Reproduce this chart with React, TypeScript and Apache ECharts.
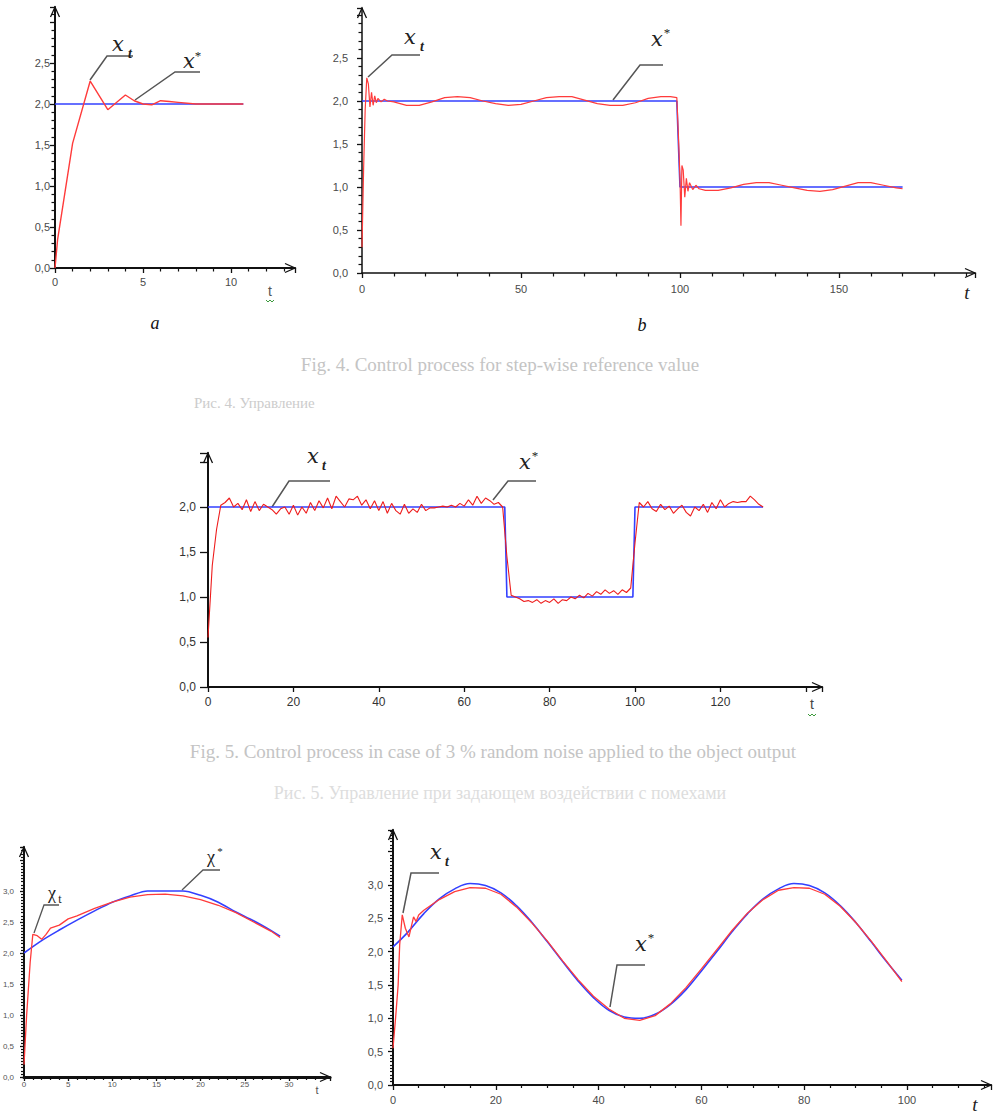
import React, { useEffect, useRef } from "react";
import * as echarts from "echarts";

// ---------- Chart a (step reference, short horizon) ----------
const aRedT = [0, 0.15, 1, 2, 3, 4, 4.5, 5, 5.5, 6, 6.5, 7, 8, 9, 10, 10.7];
const aRedV = [0.0, 0.35, 1.52, 2.28, 1.93, 2.11, 2.04, 2.0, 1.99, 2.04, 2.03, 2.02, 2.0, 2.0, 2.0, 2.0];
const aRefT = [0, 10.7];
const aRefV = [2, 2];
const aXTicks = [0, 5, 10];
const aYTicks = [0, 0.5, 1, 1.5, 2, 2.5];

// ---------- Chart b (step-wise reference 2 -> 1) ----------
const bRedT = [0, 0.5, 1, 1.5, 2, 2.5, 3, 3.5, 4, 4.5, 5, 6, 7, 8, 10, 14, 18, 22, 26, 30, 34, 38, 42, 46, 50, 54, 58, 62, 66, 70, 74, 78, 82, 86, 90, 94, 97, 99, 99.5, 100, 100.3, 100.6, 101, 101.5, 102, 102.5, 103, 104, 105, 106, 108, 112, 116, 120, 124, 128, 132, 136, 140, 144, 148, 152, 156, 160, 164, 168, 170];
const bRedV = [0.3, 1.2, 1.9, 2.27, 2.2, 1.93, 2.1, 1.95, 2.06, 1.98, 2.03, 1.99, 2.02, 2.0, 1.99, 1.95, 1.95, 1.99, 2.04, 2.05, 2.04, 2.0, 1.97, 1.95, 1.96, 2.0, 2.04, 2.05, 2.05, 2.01, 1.97, 1.95, 1.95, 1.98, 2.03, 2.05, 2.05, 2.04, 1.6, 1.1, 0.55, 1.25, 1.2, 0.88, 1.1, 0.95, 1.05, 0.97, 1.02, 0.98, 0.96, 0.96, 0.99, 1.03, 1.05, 1.05, 1.02, 0.99, 0.96, 0.95, 0.97, 1.01, 1.05, 1.05, 1.02, 0.99, 0.98];
const bRefT = [0, 99, 100, 170];
const bRefV = [2, 2, 1, 1];
const bXTicks = [0, 50, 100, 150];
const bYTicks = [0, 0.5, 1, 1.5, 2, 2.5];

// ---------- Middle chart (3 % noise), x_t sampled at t = 0,1,2,... ----------
const mRedV = [
  0.55, 1.35, 1.75, 2.02, 2.05, 2.1, 2.0, 2.04, 1.97, 2.08,
  1.95, 2.06, 1.96, 2.03, 2.0, 1.97, 1.92, 1.98, 2.0, 1.92,
  2.02, 1.91, 2.0, 1.93, 2.05, 1.96, 2.07, 1.99, 2.1, 1.98,
  2.12, 2.06, 2.0, 2.09, 2.08, 2.12, 2.02, 2.08, 1.98, 2.07,
  1.96, 2.06, 1.93, 2.04, 1.96, 1.92, 2.03, 1.93, 1.98, 1.94,
  2.03, 1.96, 1.99, 1.99, 2.0, 2.01, 2.0, 2.02, 2.0, 2.04,
  2.01, 2.08, 2.02, 2.12, 2.04, 2.1, 2.07, 2.03, 2.05, 2.0,
  1.45, 1.02, 1.0, 0.98, 0.95, 0.96, 0.94, 0.97, 0.93, 0.96,
  0.94, 0.98, 0.93, 0.97, 0.96, 1.0, 0.98, 1.02, 0.99, 1.04,
  1.01, 1.06, 1.03, 1.08, 1.04, 1.07, 1.03, 1.08, 1.05, 1.1,
  1.6, 2.05, 2.0, 2.06, 1.98, 1.95, 2.03, 1.97, 2.01, 1.93,
  1.98, 2.02, 1.94, 1.9, 2.0, 1.96, 2.03, 1.94, 2.05, 1.98,
  2.08, 2.0, 2.04, 2.06, 2.05, 2.06, 2.06, 2.12, 2.08, 2.03,
  2.0,
];
const mRefT = [0, 69.5, 70, 99.5, 100, 130];
const mRefV = [2, 2, 1, 1, 2, 2];
const mXTicks = [0, 20, 40, 60, 80, 100, 120];
const mYTicks = [0, 0.5, 1, 1.5, 2];

// ---------- Bottom-left (slowly varying reference) ----------
const lRedT = [0, 0.3, 0.7, 1, 1.5, 2, 2.5, 3, 4, 5, 6, 8, 10, 12, 14, 16, 18, 20, 22, 24, 26, 28, 29];
const lRedV = [0.2, 1.0, 1.85, 2.3, 2.28, 2.22, 2.3, 2.4, 2.45, 2.55, 2.6, 2.72, 2.82, 2.9, 2.94, 2.95, 2.92, 2.86, 2.77, 2.65, 2.5, 2.35, 2.25];
const lRefT = [0, 2, 4, 6, 8, 10, 12, 14, 16, 18, 20, 22, 24, 26, 28, 29];
const lRefV = [2.0, 2.2, 2.37, 2.53, 2.68, 2.82, 2.92, 3.0, 3.0, 3.0, 2.93, 2.82, 2.66, 2.52, 2.36, 2.27];
const lXTicks = [0, 5, 10, 15, 20, 25, 30];
const lYTicks = [0, 0.5, 1, 1.5, 2, 2.5, 3];

// ---------- Bottom-right (sinusoidal reference) ----------
const rRedT = [0, 0.5, 1, 1.3, 1.8, 2.4, 3.1, 4, 4.5, 5, 6, 9, 12, 15, 18, 21, 24, 27, 30, 33, 36, 39, 42, 45, 48, 51, 54, 57, 60, 63, 66, 69, 72, 75, 78, 81, 84, 87, 90, 93, 96, 99];
const rRedV = [0.55, 1.0, 1.5, 2.1, 2.55, 2.35, 2.22, 2.52, 2.45, 2.55, 2.62, 2.78, 2.9, 2.96, 2.95, 2.86, 2.67, 2.43, 2.16, 1.86, 1.58, 1.33, 1.14, 1.0, 0.97, 1.04, 1.22, 1.46, 1.74, 2.03, 2.32, 2.58, 2.78, 2.92, 2.96, 2.95, 2.86, 2.68, 2.44, 2.16, 1.86, 1.55];
const rRefT = [0, 3, 6, 9, 12, 15, 18, 21, 24, 27, 30, 33, 36, 39, 42, 45, 48, 51, 54, 57, 60, 63, 66, 69, 72, 75, 78, 81, 84, 87, 90, 93, 96, 99];
const rRefV = [2.07, 2.3, 2.57, 2.79, 2.94, 3.02, 2.99, 2.88, 2.69, 2.44, 2.15, 1.85, 1.56, 1.31, 1.12, 1.02, 1.0, 1.06, 1.21, 1.43, 1.71, 2.0, 2.3, 2.57, 2.79, 2.94, 3.02, 2.99, 2.88, 2.69, 2.44, 2.15, 1.85, 1.57];
const rXTicks = [0, 20, 40, 60, 80, 100];
const rYTicks = [0, 0.5, 1, 1.5, 2, 2.5, 3];

const zip = (t: number[], v: number[]) => t.map((x, i) => [x, v[i]]);
const fmt1 = (v: number) => v.toFixed(1).replace(".", ",");

const RED = "#ff3b3b";
const BLUE = "#3340ff";
const LEADER = "#555555";
const SANS = "Liberation Sans, Arial, sans-serif";
const SERIF = "Liberation Serif, Times New Roman, serif";
const MATH = "DejaVu Serif, serif";

type Lay = { left: number; top: number; width: number; height: number };
const layouts: Lay[] = [
  { left: 55, top: 7, width: 240, height: 261 },
  { left: 362, top: 8, width: 613, height: 265 },
  { left: 208, top: 453, width: 614, height: 234 },
  { left: 24, top: 847, width: 306, height: 230 },
  { left: 393, top: 830, width: 598, height: 255 },
];

type AxCfg = {
  xmax: number; xint: number; xticks: number[]; xminor: number; xlw: number; xtl: number; xlm: number;
  ymax: number; yint: number; yticks: number[]; yminor: number; ylw: number; ytl: number; ylm: number;
  fs: number; color: string; minorLen: number;
};

const cfgs: AxCfg[] = [
  { xmax: 240 / 17.6, xint: 5, xticks: aXTicks, xminor: 5, xlw: 2, xtl: 5, xlm: 8,
    ymax: 261 / 82, yint: 0.5, yticks: aYTicks, yminor: 5, ylw: 2, ytl: 5, ylm: 5, fs: 11, color: "#4a4a4a", minorLen: 3.5 },
  { xmax: 613 / 3.18, xint: 50, xticks: bXTicks, xminor: 5, xlw: 1.5, xtl: 5, xlm: 10,
    ymax: 265 / 86, yint: 0.5, yticks: bYTicks, yminor: 5, ylw: 1.5, ytl: 5, ylm: 14, fs: 11, color: "#4a4a4a", minorLen: 3.5 },
  { xmax: 614 / 4.27, xint: 20, xticks: mXTicks, xminor: 0, xlw: 2, xtl: 5, xlm: 9,
    ymax: 234 / 90, yint: 0.5, yticks: mYTicks, yminor: 0, ylw: 2, ytl: 8, ylm: 12, fs: 12, color: "#333333", minorLen: 2 },
  { xmax: 306 / 8.83, xint: 5, xticks: lXTicks, xminor: 5, xlw: 3, xtl: 4, xlm: 3,
    ymax: 230 / 62, yint: 0.5, yticks: lYTicks, yminor: 10, ylw: 2, ytl: 4, ylm: 10, fs: 8, color: "#555555", minorLen: 3 },
  { xmax: 598 / 5.14, xint: 20, xticks: rXTicks, xminor: 4, xlw: 2, xtl: 5, xlm: 9,
    ymax: 255 / 66.7, yint: 0.5, yticks: rYTicks, yminor: 10, ylw: 2, ytl: 5, ylm: 10, fs: 11, color: "#4a4a4a", minorLen: 3 },
];

function buildOption() {
  const grid = layouts.map((l) => ({ ...l, containLabel: false, outerBoundsMode: "none" }));
  const xAxis = cfgs.map((c, i) => ({
    gridIndex: i, type: "value", min: 0, max: c.xmax, interval: c.xint,
    axisLine: { show: true, onZero: false, lineStyle: { color: "#111", width: c.xlw } },
    axisTick: { show: true, length: c.xtl, lineStyle: { color: "#111", width: 1.3 } },
    minorTick: { show: c.xminor > 0, splitNumber: c.xminor || 5, length: c.minorLen, lineStyle: { color: "#111", width: 1.2 } },
    axisLabel: { customValues: c.xticks, margin: c.xlm, color: c.color, fontSize: c.fs, fontFamily: SANS, formatter: (v: number) => String(v) },
    splitLine: { show: false },
    minorSplitLine: { show: false },
  }));
  const yAxis = cfgs.map((c, i) => ({
    gridIndex: i, type: "value", min: 0, max: c.ymax, interval: c.yint,
    axisLine: { show: true, onZero: false, lineStyle: { color: "#111", width: c.ylw } },
    axisTick: { show: true, length: c.ytl, lineStyle: { color: "#111", width: 1.3 } },
    minorTick: { show: c.yminor > 0, splitNumber: c.yminor || 5, length: c.minorLen, lineStyle: { color: "#111", width: 1.2 } },
    axisLabel: { customValues: c.yticks, margin: c.ylm, color: c.color, fontSize: c.fs, fontFamily: SANS, formatter: fmt1 },
    splitLine: { show: false },
    minorSplitLine: { show: false },
  }));

  const line = (idx: number, data: number[][], color: string, width: number, smooth: boolean | number = false, z = 2) => ({
    type: "line", xAxisIndex: idx, yAxisIndex: idx, data, showSymbol: false, symbol: "none",
    smooth, z, lineStyle: { color, width }, emphasis: { disabled: true }, silent: true,
  });

  const series = [
    line(0, zip(aRefT, aRefV), BLUE, 1.6, false, 2),
    line(0, zip(aRedT, aRedV), RED, 1.4, false, 3),
    line(1, zip(bRefT, bRefV), BLUE, 1.6, false, 2),
    line(1, zip(bRedT, bRedV), RED, 1.2, false, 3),
    line(2, zip(mRefT, mRefV), BLUE, 1.6, false, 2),
    line(2, mRedV.map((v, i) => [i, v]), "#ee1c1c", 1.1, false, 3),
    line(3, zip(lRefT, lRefV), BLUE, 1.6, 0.3, 2),
    line(3, zip(lRedT, lRedV), RED, 1.3, false, 3),
    line(4, zip(rRefT, rRefV), BLUE, 1.6, 0.4, 2),
    line(4, zip(rRedT, rRedV), RED, 1.3, false, 3),
  ];

  const graphic: any[] = [];
  const stroke = (points: number[][], color = LEADER, w = 1.5) =>
    graphic.push({ type: "polyline", shape: { points }, style: { stroke: color, lineWidth: w, fill: "none" }, silent: true });
  const text = (x: number, y: number, s: string, font: string, fill = "#222", align = "center") =>
    graphic.push({ type: "text", x, y, silent: true, style: { text: s, font, fill, align, verticalAlign: "middle" } });

  // open arrowheads at the ends of the axes
  layouts.forEach((l) => {
    const x0 = l.left, y0 = l.top, xr = l.left + l.width, yb = l.top + l.height;
    stroke([[x0 - 4.5, y0 + 10], [x0, y0], [x0 + 4.5, y0 + 10]], "#111", 1.3);
    stroke([[xr - 10, yb - 4.5], [xr, yb], [xr - 10, yb + 4.5]], "#111", 1.3);
  });

  const mathX = "italic 21px " + MATH;
  const sub = "italic bold 14px " + SERIF;
  const star = "13px " + SERIF;

  // chart a labels
  stroke([[90, 80], [107, 56], [133, 56]]);
  stroke([[135, 100], [175, 72], [200, 72]]);
  text(118, 44, "x", mathX);
  text(130, 53, "t", sub);
  text(189, 61, "x", mathX);
  text(198, 55, "*", star);

  // chart b labels
  stroke([[368, 77], [392, 55], [420, 55]]);
  stroke([[613, 100], [640, 65], [663, 65]]);
  text(410, 37, "x", mathX);
  text(422, 46, "t", sub);
  text(657, 39, "x", mathX);
  text(667, 32, "*", star);

  // middle chart labels
  stroke([[272, 507], [289, 481], [330, 481]]);
  stroke([[493, 500], [508, 481], [536, 481]]);
  text(313, 456, "x", mathX);
  text(324, 465, "t", sub);
  text(525, 462, "x", mathX);
  text(535, 455, "*", star);

  // bottom-left labels
  stroke([[34, 933], [44, 905], [59, 905]], LEADER, 1.3);
  stroke([[182, 890], [203, 870], [220, 870]], LEADER, 1.3);
  text(52, 893, "χ", "18px " + SERIF);
  text(60, 899, "t", "12px " + SERIF);
  text(211, 857, "χ", "18px " + SERIF);
  text(220, 851, "*", "11px " + SERIF);

  // bottom-right labels
  stroke([[403, 913], [411, 873], [439, 873]]);
  stroke([[610, 1007], [617, 965], [645, 965]]);
  text(436, 852, "x", mathX);
  text(447, 861, "t", sub);
  text(641, 944, "x", mathX);
  text(651, 937, "*", star);

  // axis names
  text(270, 291, "t", "14px " + SANS, "#555");
  stroke([[266, 300], [268, 302], [270, 300], [272, 302], [274, 300]], "#3c9a3c", 1);
  text(967, 292, "t", "italic 19px " + SERIF, "#222");
  text(812, 704, "t", "14px " + SANS, "#444");
  stroke([[808, 714], [810, 716], [812, 714], [814, 716], [816, 714]], "#3c9a3c", 1);
  text(317, 1090, "t", "11px " + SANS, "#555");
  text(975, 1104, "t", "italic 19px " + SERIF, "#222");

  // sub-figure letters
  text(155, 323, "a", "italic 18px " + SERIF, "#111");
  text(642, 325, "b", "italic 18px " + SERIF, "#111");

  // captions (faded in the source scan)
  text(500, 364, "Fig. 4. Control process for step-wise reference value", "19px " + SERIF, "#c4c4c4");
  text(194, 403, "Рис. 4. Управление", "15px " + SERIF, "#cccccc", "left");
  text(493, 751, "Fig. 5. Control process in case of 3 % random noise applied to the object output", "19px " + SERIF, "#c4c4c4");
  text(500, 793, "Рис. 5. Управление при задающем воздействии с помехами", "18px " + SERIF, "#dddddd");

  return { animation: false, backgroundColor: "#ffffff", grid, xAxis, yAxis, series, graphic };
}

export default function App() {
  const ref = useRef<HTMLDivElement>(null);
  useEffect(() => {
    document.body.style.margin = "0";
    const chart = echarts.init(ref.current!, null, { renderer: "svg" });
    chart.setOption(buildOption() as any);
    return () => chart.dispose();
  }, []);
  return <div ref={ref} style={{ width: 1000, height: 1116, background: "#fff" }} />;
}
